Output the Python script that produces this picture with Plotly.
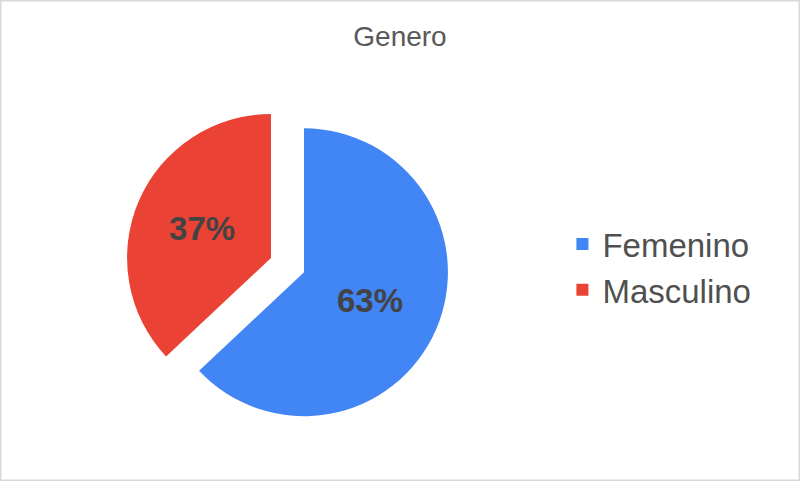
import plotly.graph_objects as go

# data
labels = ["Femenino", "Masculino"]
values = [63, 37]
colors = ["#4285F4", "#EA4335"]
pulls = [0, 0.25]

fig = go.Figure()
fig.add_trace(go.Pie(
    labels=labels,
    values=values,
    marker=dict(colors=colors, line=dict(width=0)),
    pull=pulls,
    sort=False,
    direction="clockwise",
    rotation=0,
    texttemplate="<b>%{percent:.0%}</b>",
    textposition="inside",
    insidetextorientation="horizontal",
    textfont=dict(family="Liberation Sans, Arial", size=33, color="#434343"),
    domain=dict(x=[0.155, 0.605], y=[0.06, 0.808]),
    hoverinfo="label+percent",
))

fig.update_layout(
    width=800, height=481,
    margin=dict(l=0, r=0, t=0, b=0),
    paper_bgcolor="white",
    font=dict(family="Liberation Sans, Arial", color="#444444"),
    title=dict(text="Genero", x=0.5, xanchor="center", y=0.925, yanchor="middle",
               font=dict(size=28, color="#595959")),
    legend=dict(x=0.703, y=0.445, xanchor="left", yanchor="middle",
                font=dict(size=33, color="#505050"), itemwidth=30,
                bgcolor="rgba(0,0,0,0)"),
    shapes=[dict(type="rect", xref="paper", yref="paper", x0=0, x1=1, y0=0, y1=1,
                 line=dict(color="#d9d9d9", width=3))],
)

# drop the default page margin so the figure sits at the top-left corner
fig.write_html("out.html", config={"displayModeBar": False},
               post_script="document.body.style.margin='0';")
